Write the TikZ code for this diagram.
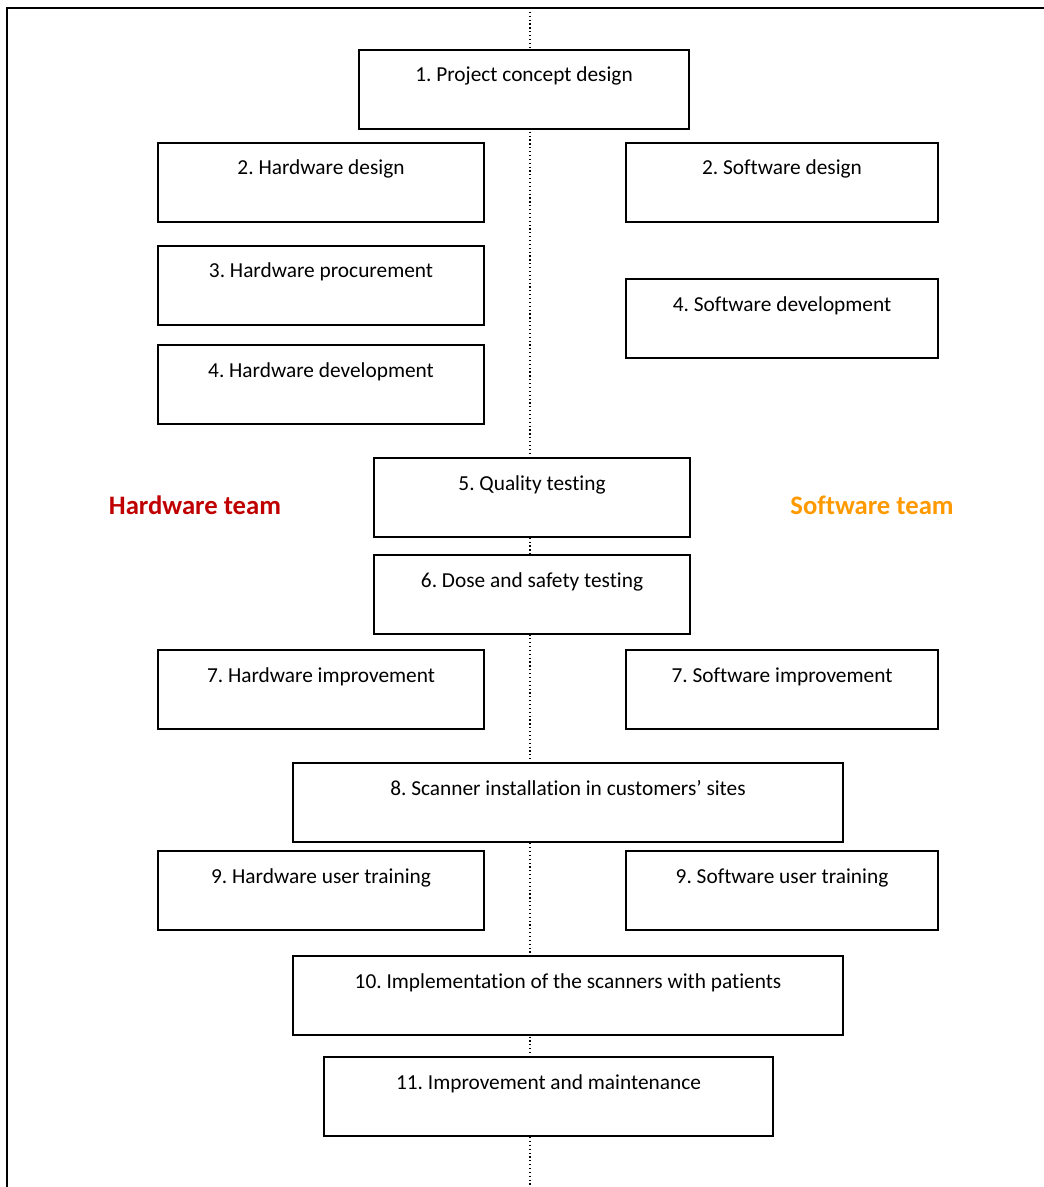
\documentclass[tikz,border=0pt]{standalone}
\usepackage{fontspec}
\setmainfont{Carlito}[Ligatures = NoCommon]
\frenchspacing

\definecolor{hwred}{HTML}{C00000}
\definecolor{sworange}{HTML}{FF9900}

\tikzset{
	stage/.style = {draw, fill = white, line width = 1.5pt,
		anchor = north west, inner sep = 0pt,
		text height = 24pt, text depth = 35.25pt,
		font = \fontsize{16}{19}\selectfont},
	team/.style = {font = \bfseries\fontsize{20}{24}\selectfont},
	divider/.style = {dotted, line width = 0.9pt}
}

\begin{document}
\begin{tikzpicture}[x = 0.75pt, y = -0.75pt]
\useasboundingbox (0,0) rectangle (1044,1187);
% frame and middle divider
\draw[line width = 1.8pt] (7,1187) -- (7,8) -- (1044,8);
\coordinate (divtop) at (530,8);
\coordinate (divbot) at (530,1187);
\draw[divider] (divtop) -- (divbot);

\node[stage, minimum width = 330*0.75pt] (concept) at (358,49) {1. Project concept design};
\node[stage, minimum width = 326*0.75pt] (hwdesign) at (157,142) {2. Hardware design};
\node[stage, minimum width = 312*0.75pt] (swdesign) at (625,142) {2. Software design};
\node[stage, minimum width = 326*0.75pt] (hwproc) at (157,245) {3. Hardware procurement};
\node[stage, minimum width = 312*0.75pt] (swdev) at (625,278) {4. Software development};
\node[stage, minimum width = 326*0.75pt] (hwdev) at (157,344) {4. Hardware development};
\node[stage, minimum width = 316*0.75pt] (quality) at (373,457) {5. Quality testing};
\node[stage, minimum width = 316*0.75pt] (dose) at (373,554) {6. Dose and safety testing};
\node[stage, minimum width = 326*0.75pt] (hwimp) at (157,649) {7. Hardware improvement};
\node[stage, minimum width = 312*0.75pt] (swimp) at (625,649) {7. Software improvement};
\node[stage, minimum width = 550*0.75pt] (install) at (292,762) {8. Scanner installation in customers’ sites};
\node[stage, minimum width = 326*0.75pt] (hwtrain) at (157,850) {9. Hardware user training};
\node[stage, minimum width = 312*0.75pt] (swtrain) at (625,850) {9. Software user training};
\node[stage, minimum width = 550*0.75pt] (patients) at (292,955) {10. Implementation of the scanners with patients};
\node[stage, minimum width = 449*0.75pt] (maint) at (323,1056) {11. Improvement and maintenance};

% team names
\node[team, text = hwred] (hwteam) at (195,505) {Hardware team};
\node[team, text = sworange] (swteam) at (872,505) {Software team};
\end{tikzpicture}
\end{document}
